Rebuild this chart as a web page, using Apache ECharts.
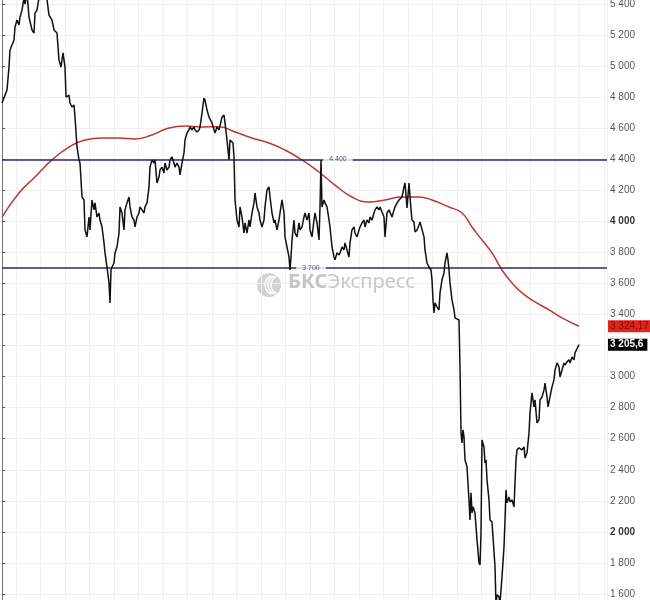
<!DOCTYPE html>
<html><head><meta charset="utf-8">
<script src="https://cdn.jsdelivr.net/npm/echarts@6/dist/echarts.min.js"></script>
<style>html,body{margin:0;padding:0;background:#fff}#c{width:650px;height:600px}</style>
</head><body><div id="c"></div>
<script>
// trading session index (approx.) and closing values
const priceDays = [0,5,7,8,12,13,15,17,18,20,22,23,25,27,30,32,33,35,37,41,45,47,50,52,55,57,59,61,63,64,67,68,70,72,73,75,77,78,79,80,82,83,85,87,88,90,92,93,95,97,98,100,102,103,105,107,108,109,110,112,113,115,117,118,120,122,123,125,127,128,130,132,133,135,137,138,140,142,143,145,147,148,150,152,153,155,157,158,160,162,163,165,167,168,170,172,173,175,177,178,180,182,183,185,187,188,190,192,193,195,197,198,200,202,203,205,207,210,213,215,217,220,222,223,225,227,228,231,232,233,235,237,238,240,242,243,245,247,248,250,252,253,255,257,258,260,262,263,265,267,268,270,272,273,275,277,278,280,282,283,285,287,288,289,290,292,293,295,297,298,300,302,303,305,307,308,310,312,313,315,317,318,319,320,322,323,325,327,328,330,332,333,335,337,338,340,342,343,345,347,348,350,352,353,355,357,358,360,362,363,365,367,368,370,372,373,375,377,378,380,382,383,385,387,390,392,393,395,397,400,402,403,405,407,408,409,410,412,413,415,417,418,420,422,423,425,427,428,429,430,431,432,433,435,437,438,440,442,443,445,446,447,448,450,452,453,455,457,458,459,460,461,462,463,465,467,468,469,470,471,472,473,475,477,478,479,480,482,483,484,485,487,488,490,492,493,494,495,497,498,500,502,503,504,505,507,508,510,512,513,514,515,517,518,520,522,523,525,527,528,530,532,533,535,537,538,540,542,543,545,546,548,550,552,553,555,557,558,560,562,563,565,567,568,570,572,573,575,577];
const priceValues = [4762,4846,4994,5104,5168,5252,5297,5265,5316,5361,5440,5400,5470,5316,5233,5213,5342,5361,5440,5480,5430,5329,5297,5233,5213,5039,4994,5085,4994,4801,4814,4762,4737,4750,4672,4479,4396,4376,4267,4157,4138,3945,3900,4028,3945,4138,4074,4119,4028,4054,4009,3964,3861,3797,3706,3603,3475,3687,3706,3732,3797,3835,3925,4093,4054,3945,4074,4119,4157,4093,4028,4009,3964,4028,4054,4093,4074,4054,4093,4119,4222,4350,4396,4376,4396,4247,4286,4331,4350,4312,4376,4331,4350,4396,4415,4376,4350,4376,4350,4299,4376,4441,4524,4569,4589,4608,4589,4608,4589,4576,4589,4608,4698,4795,4782,4717,4672,4634,4569,4608,4589,4672,4685,4634,4524,4396,4524,4505,4415,4138,4009,3964,4093,4028,3925,3990,3925,4009,3964,4054,4119,4183,4093,4054,4009,3964,4009,4093,4202,4222,4157,4054,3990,4009,3945,4009,4054,4138,4054,3900,3835,3771,3687,3771,3880,4009,3925,3900,3990,3945,3964,4028,4054,4009,4054,3945,3900,4009,4054,3990,3880,4093,4396,4093,4138,4119,4093,4009,3964,3835,3771,3752,3797,3784,3797,3835,3816,3861,3816,3771,3861,3945,3964,3925,3900,3945,3964,3990,4009,3964,4009,3990,4028,4009,4054,4074,4093,4074,4093,4086,4028,3900,4054,4074,4028,4074,4093,4119,4138,4157,4222,4247,4086,4247,4254,4074,4009,3996,3932,3945,3977,3996,3990,3900,3816,3732,3706,3706,3687,3623,3494,3410,3475,3449,3430,3539,3623,3668,3732,3797,3752,3687,3603,3494,3430,3378,3384,3365,3062,2637,2573,2657,2612,2464,2418,2206,2077,2251,2122,2161,2142,2122,1948,1800,1787,1993,2592,2547,2444,2464,2335,2206,2077,2064,2058,1775,1530,1594,1581,1540,1710,1903,2077,2270,2187,2225,2193,2206,2161,2315,2464,2528,2541,2547,2528,2547,2476,2509,2637,2766,2895,2805,2850,2702,2721,2850,2869,2914,2959,2869,2805,2869,2934,2979,3043,3088,3063,2998,3043,3088,3075,3095,3108,3088,3127,3108,3153,3159,3205.6];
// moving average
const maDays = [0,17,33,50,67,83,100,117,133,150,167,183,200,217,233,250,267,283,300,317,333,350,367,383,400,417,430,447,460,470,480,490,500,510,520,533,547,560,577];
const maValues = [4028,4183,4286,4396,4479,4524,4537,4537,4531,4557,4602,4614,4608,4610,4576,4537,4505,4460,4396,4318,4234,4157,4125,4138,4157,4157,4138,4093,4054,3964,3880,3797,3687,3603,3539,3481,3430,3378,3324.17];
// horizontal levels
const levels = [4400, 3700];
const levelLabelDays = [336, 309];

function thousands(v) {
  const parts = String(v).split('.');
  const ip = parts[0].replace(/\B(?=(\d{3})+(?!\d))/g, ' ');
  return parts.length > 1 ? ip + ',' + parts[1] : ip;
}

const priceData = priceDays.map((d, i) => [d, priceValues[i]]);
const maData = maDays.map((d, i) => [d, maValues[i]]);
const lastPrice = priceValues[priceValues.length - 1];
const lastMa = maValues[maValues.length - 1];
const NAVY = '#26267a';
const GRIDC = '#f0f0f0';
const CLEAR = 'rgba(0,0,0,0)';

const chart = echarts.init(document.getElementById('c'), null, {renderer: 'canvas'});
chart.setOption({
  animation: false,
  backgroundColor: '#ffffff',
  grid: [
    {left: 2, right: 43, top: -27, bottom: -25, outerBoundsMode: 'none', containLabel: false},
    {left: 16, right: 43, top: -27, bottom: -25, outerBoundsMode: 'none', containLabel: false}
  ],
  xAxis: [
    {type: 'value', gridIndex: 0, min: 0, max: 605, show: false},
    {type: 'value', gridIndex: 1, min: 0, max: 591, interval: 24.5,
     axisLine: {show: false}, axisTick: {show: false}, axisLabel: {show: false},
     splitLine: {show: true, lineStyle: {color: GRIDC, width: 1}}}
  ],
  yAxis: [
    {type: 'value', gridIndex: 0, position: 'right', min: 1400, max: 5600, interval: 200,
     axisLine: {show: true, lineStyle: {color: '#555', width: 1}},
     axisTick: {show: true, length: 3, lineStyle: {color: '#555'}},
     axisLabel: {margin: 3, color: '#555', fontSize: 10, fontFamily: 'Liberation Sans',
       formatter: v => (v === 4000 || v === 2000) ? '{b|' + thousands(v) + '}' : thousands(v),
       rich: {b: {fontWeight: 'bold', color: '#333', fontSize: 10, fontFamily: 'Liberation Sans'}}},
     splitLine: {show: true, lineStyle: {color: GRIDC, width: 1}}},
    {type: 'value', gridIndex: 0, position: 'left', min: 1400, max: 5600,
     axisLine: {show: true, lineStyle: {color: '#777', width: 1}},
     axisTick: {show: false}, axisLabel: {show: false}, splitLine: {show: false}},
    {type: 'value', gridIndex: 1, show: false, min: 1400, max: 5600}
  ],
  graphic: [
    {type: 'group', left: 257, top: 273, z: 1, silent: true, children: [
      {type: 'circle', shape: {cx: 12, cy: 12, r: 12}, style: {fill: '#d2d2d2'}},
      {type: 'arc', shape: {cx: 17.5, cy: 12, r: 9.5, startAngle: Math.PI * 0.6, endAngle: Math.PI * 1.4}, style: {stroke: '#fff', lineWidth: 1.6, fill: null}},
      {type: 'arc', shape: {cx: 20.5, cy: 12, r: 9.5, startAngle: Math.PI * 0.6, endAngle: Math.PI * 1.4}, style: {stroke: '#fff', lineWidth: 1.6, fill: null}},
      {type: 'arc', shape: {cx: 23.5, cy: 12, r: 9.5, startAngle: Math.PI * 0.65, endAngle: Math.PI * 1.35}, style: {stroke: '#fff', lineWidth: 1.6, fill: null}}
    ]},
    {type: 'text', left: 288, top: 272, z: 1, silent: true, style: {
      text: '{a|БКС}{c|Экспресс}',
      rich: {a: {fontSize: 20, fontWeight: 'bold', fill: '#c4c4c4', fontFamily: 'Noto Sans'},
             c: {fontSize: 20, fill: '#c8c8c8', fontFamily: 'Noto Sans'}}
    }}
  ],
  series: [
    {type: 'line', name: 'levels', xAxisIndex: 0, yAxisIndex: 0, data: [], z: 3,
     markLine: {silent: true, symbol: 'none', animation: false,
       lineStyle: {color: NAVY, width: 1.5, type: 'solid'}, label: {show: false},
       data: levels.map(v => ({yAxis: v}))}},
    {type: 'line', name: 'ma', xAxisIndex: 0, yAxisIndex: 0, data: maData, smooth: 0.5,
     showSymbol: false, symbol: 'none', lineStyle: {color: '#b83a32', width: 1.5}, z: 4,
     markLine: {silent: true, symbol: 'none', animation: false,
       lineStyle: {color: CLEAR, width: 0},
       label: {show: true, position: 'end', distance: 1, formatter: () => thousands(lastMa),
         backgroundColor: '#e3241c', color: '#7a0c08', fontSize: 10, fontFamily: 'Liberation Sans',
         padding: [1, 3, 0, 2], lineHeight: 11},
       data: [{yAxis: lastMa}]}},
    {type: 'line', name: 'price', xAxisIndex: 0, yAxisIndex: 0, data: priceData,
     showSymbol: false, symbol: 'none', lineStyle: {color: '#111', width: 1.5}, z: 5,
     markLine: {silent: true, symbol: 'none', animation: false,
       lineStyle: {color: CLEAR, width: 0},
       label: {show: true, position: 'end', distance: 1, formatter: () => thousands(lastPrice),
         backgroundColor: '#000', color: '#fff', fontWeight: 'bold', fontSize: 10, fontFamily: 'Liberation Sans',
         padding: [1, 4, 0, 2], lineHeight: 11},
       data: [{yAxis: lastPrice}]}},
    {type: 'scatter', name: 'levelLabels', xAxisIndex: 0, yAxisIndex: 0, symbolSize: 0, z: 6,
     data: levels.map((v, i) => [levelLabelDays[i], v]),
     label: {show: true, position: 'inside', formatter: p => thousands(p.value[1]),
       color: NAVY, fontSize: 7, fontFamily: 'Liberation Sans', backgroundColor: '#fff', padding: [1, 6]}}
  ]
});
</script>
</body></html>
